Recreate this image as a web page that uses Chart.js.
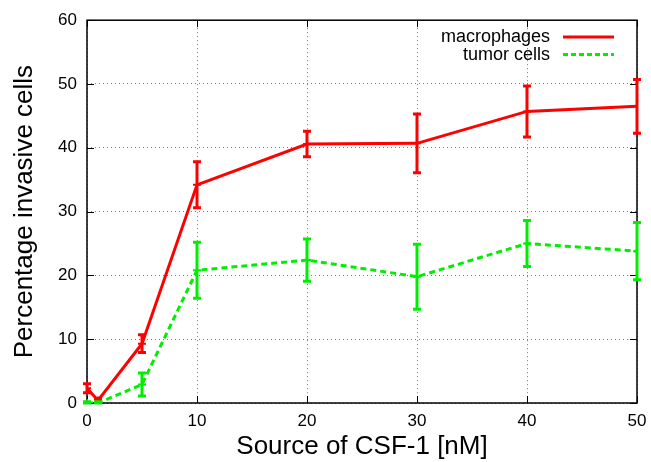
<!DOCTYPE html>
<html>
<head>
<meta charset="utf-8">
<script src="https://cdn.jsdelivr.net/npm/chart.js@4"></script>
<style>
  html, body { margin: 0; padding: 0; background: #fff; }
</style>
</head>
<body>
<canvas id="invChart" width="651" height="462"></canvas>
<script>
// CSF-1 concentration (nM)
const doses = [0, 1, 5, 10, 20, 30, 40, 50];
const macrophages = [2.3, 0.4, 9.3, 34.2, 40.6, 40.7, 45.7, 46.5];
const macrophageErr = [0.7, 0.3, 1.4, 3.6, 2.0, 4.6, 4.0, 4.2];
const tumorCells = [0, 0, 2.9, 20.8, 22.4, 19.8, 25.0, 23.8];
const tumorErr = [0.2, 0.2, 1.8, 4.4, 3.3, 5.1, 3.6, 4.5];
const yTicks = [0, 10, 20, 30, 40, 50, 60];
const xTicks = [0, 10, 20, 30, 40, 50];

const font = "'Liberation Sans', Arial, sans-serif";
const RED = '#ff0000';
const GREEN = '#00ee00';

function toPoints(ys) {
    return doses.map((d, i) => ({ x: d, y: ys[i] }));
}

// gnuplot-ish frame, inward ticks, error bars and legend
const gnuplotLook = {
    id: 'gnuplotLook',
    beforeDatasetsDraw(chart) {
        const { ctx, chartArea: a, scales } = chart;
        ctx.save();
        ctx.strokeStyle = '#000';
        ctx.lineWidth = 1;
        yTicks.forEach(v => {
            const y = Math.round(scales.y.getPixelForValue(v)) + 0.5;
            ctx.beginPath();
            ctx.moveTo(a.left, y); ctx.lineTo(a.left + 7, y);
            ctx.moveTo(a.right, y); ctx.lineTo(a.right - 7, y);
            ctx.stroke();
        });
        xTicks.forEach(v => {
            const x = Math.round(scales.x.getPixelForValue(v)) + 0.5;
            ctx.beginPath();
            ctx.moveTo(x, a.bottom); ctx.lineTo(x, a.bottom - 7);
            ctx.moveTo(x, a.top); ctx.lineTo(x, a.top + 7);
            ctx.stroke();
        });
        ctx.lineWidth = 1.5;
        ctx.strokeRect(a.left, a.top, a.right - a.left, a.bottom - a.top);
        ctx.restore();
    },
    afterDatasetsDraw(chart) {
        const { ctx, chartArea: a, scales } = chart;
        const sets = [[macrophages, macrophageErr, RED], [tumorCells, tumorErr, GREEN]];
        ctx.save();
        ctx.lineWidth = 3;
        ctx.lineCap = 'butt';
        sets.forEach(([vals, errs, col]) => {
            ctx.strokeStyle = col;
            doses.forEach((d, i) => {
                const x = scales.x.getPixelForValue(d);
                const top = Math.max(scales.y.getPixelForValue(vals[i] + errs[i]), a.top);
                const bot = Math.min(scales.y.getPixelForValue(vals[i] - errs[i]), a.bottom);
                ctx.beginPath();
                ctx.moveTo(x, top); ctx.lineTo(x, bot);
                ctx.moveTo(x - 4, top); ctx.lineTo(x + 4, top);
                ctx.moveTo(x - 4, bot); ctx.lineTo(x + 4, bot);
                ctx.stroke();
            });
        });

        // legend, text right aligned with sample line on its right
        ctx.font = '18px ' + font;
        ctx.fillStyle = '#000';
        ctx.textAlign = 'right';
        ctx.textBaseline = 'middle';
        const rows = [['macrophages', RED, []], ['tumor cells', GREEN, [5, 3]]];
        rows.forEach(([label, col, dash], i) => {
            const y = 37 + i * 17.6;
            ctx.fillText(label, 550, y);
            ctx.strokeStyle = col;
            ctx.setLineDash(dash);
            ctx.beginPath();
            ctx.moveTo(563, y); ctx.lineTo(614, y);
            ctx.stroke();
        });
        ctx.restore();
    }
};

const ctx = document.getElementById('invChart').getContext('2d');

new Chart(ctx, {
    type: 'line',
    data: {
        datasets: [{
            label: 'macrophages',
            data: toPoints(macrophages),
            borderColor: RED,
            backgroundColor: RED,
            borderWidth: 3,
            pointStyle: 'cross',
            pointRadius: 4,
            pointBorderWidth: 2,
            tension: 0,
            fill: false
        }, {
            label: 'tumor cells',
            data: toPoints(tumorCells),
            borderColor: GREEN,
            backgroundColor: GREEN,
            borderWidth: 3,
            borderDash: [6, 4],
            pointStyle: 'cross',
            pointRadius: 4,
            pointBorderWidth: 2,
            tension: 0,
            fill: false
        }]
    },
    options: {
        responsive: false,
        animation: false,
        layout: { padding: { top: 20, right: 14, left: 0, bottom: 0 } },
        plugins: {
            legend: { display: false },
            tooltip: { enabled: false }
        },
        scales: {
            x: {
                type: 'linear',
                min: 0,
                max: 50,
                afterBuildTicks: s => { s.ticks = xTicks.map(v => ({ value: v })); },
                afterFit: s => { s.height = 59; s.paddingLeft = 0; s.paddingRight = 0; },
                grid: { color: '#777', lineWidth: 1, drawTicks: false },
                border: { display: false, dash: [1, 3] },
                ticks: { color: '#000', font: { family: font, size: 17 }, padding: 8, autoSkip: false, maxRotation: 0 },
                title: {
                    display: true,
                    text: 'Source of CSF-1 [nM]',
                    color: '#000',
                    font: { family: font, size: 26 },
                    padding: { top: 3, bottom: 0 }
                }
            },
            y: {
                min: 0,
                max: 60,
                afterBuildTicks: s => { s.ticks = yTicks.map(v => ({ value: v })); },
                afterFit: s => { s.width = 87; },
                grid: { color: '#777', lineWidth: 1, drawTicks: false },
                border: { display: false, dash: [1, 3] },
                ticks: { color: '#000', font: { family: font, size: 17 }, padding: 10, autoSkip: false },
                title: {
                    display: true,
                    text: 'Percentage invasive cells',
                    color: '#000',
                    font: { family: font, size: 26 },
                    padding: { top: 9, bottom: 0 }
                }
            }
        }
    },
    plugins: [gnuplotLook]
});
</script>
</body>
</html>
